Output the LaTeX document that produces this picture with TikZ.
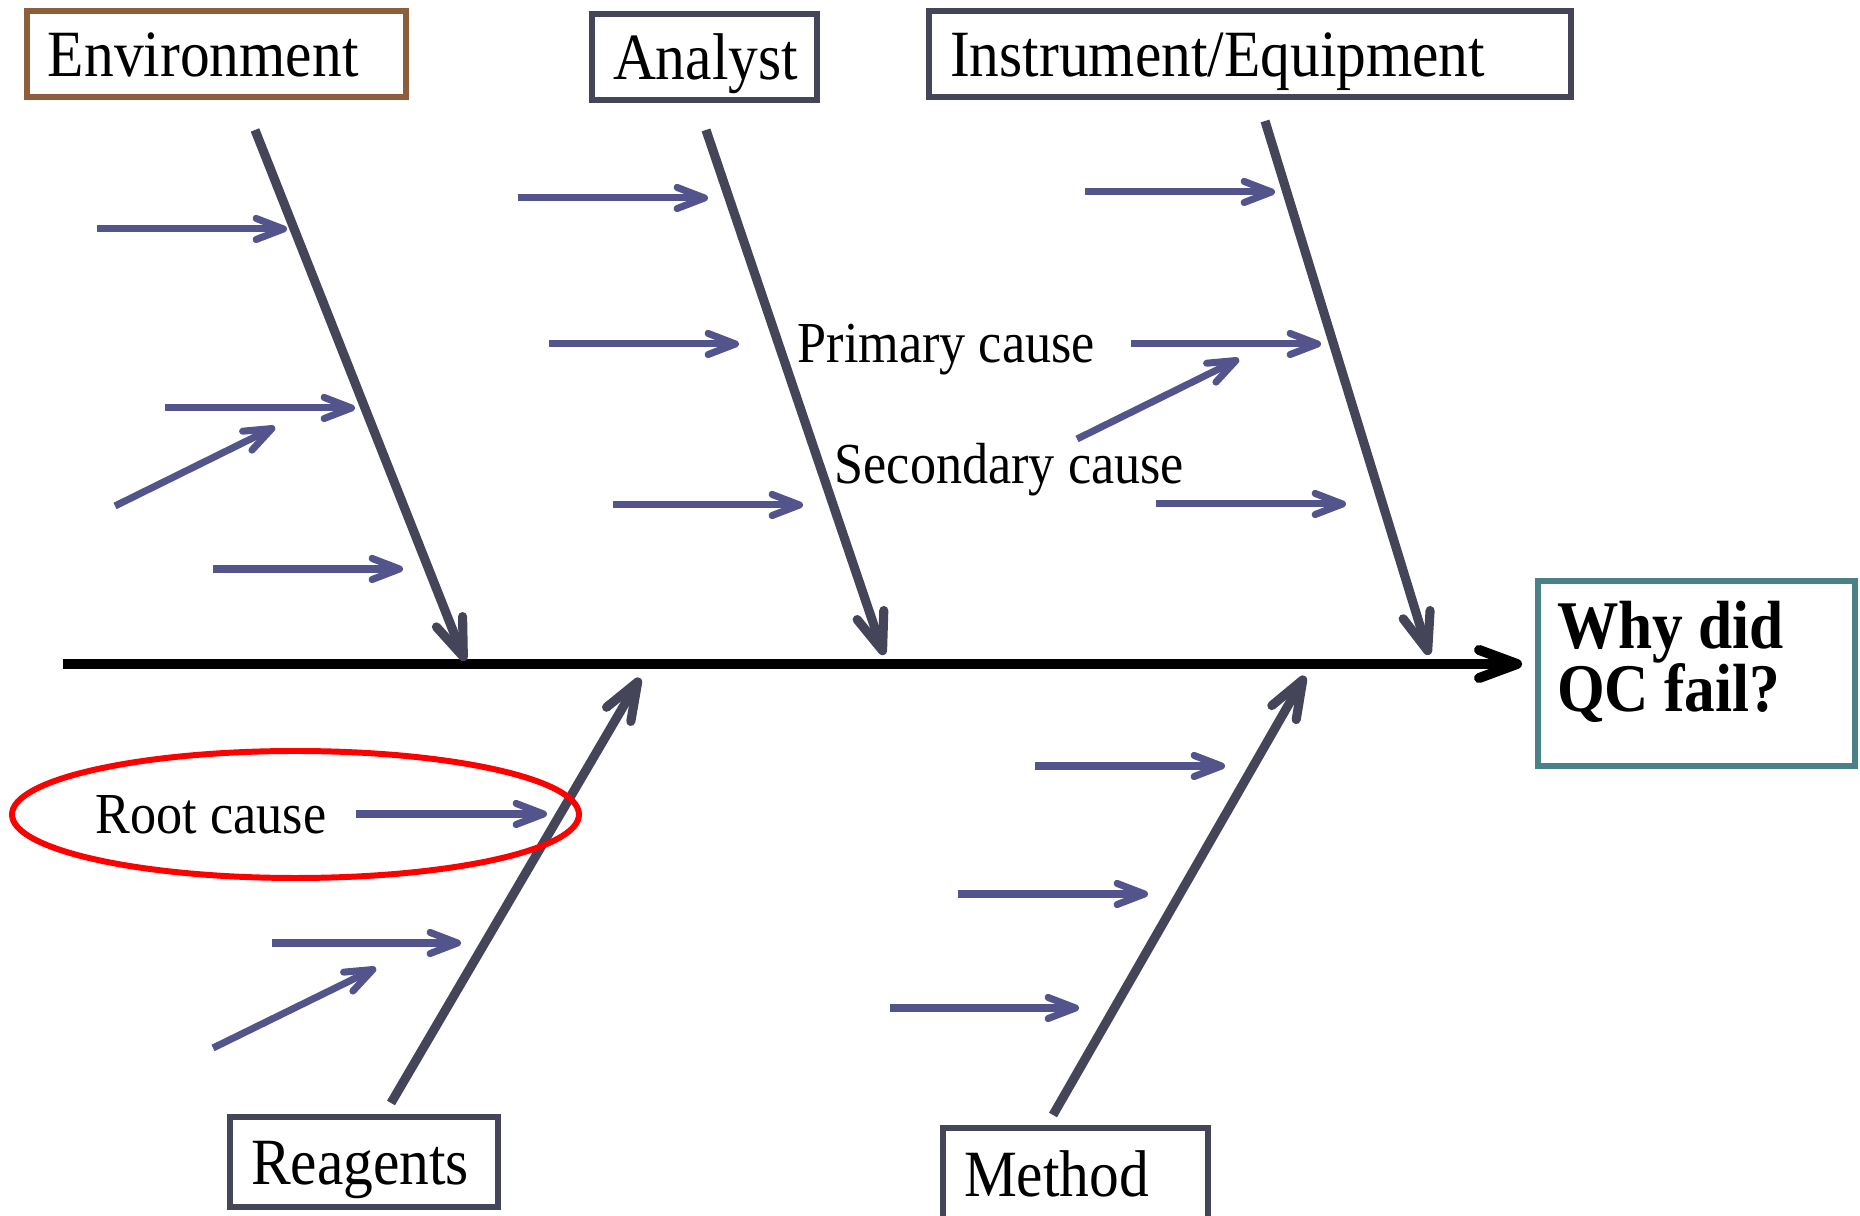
\documentclass[tikz,border=0pt]{standalone}
\usepackage{fontspec}
\setmainfont{Liberation Serif}[FakeStretch=0.9]
\usetikzlibrary{arrows.meta}

\definecolor{bonegray}{RGB}{69,69,90}
\definecolor{subblue}{RGB}{84,84,140}
\definecolor{envbrown}{RGB}{140,94,60}
\definecolor{qcteal}{RGB}{74,128,136}

\tikzset{
    causebox/.style={draw=bonegray, line width=1.5pt, inner xsep=0.21cm, inner ysep=0pt, text height=0.46cm, text depth=0.01cm, align=left, font=\fontsize{18.8}{20}\selectfont},
    causetext/.style={inner sep=0pt, font=\fontsize{16.5}{18}\selectfont},
    spine/.style={draw=black, line width=2.85pt, -{Straight Barb[length=10.8pt, width=8pt, round]}},
    bone/.style={draw=bonegray, line width=2.6pt, -{Straight Barb[length=10.7pt, width=8pt, round]}},
    subcause/.style={draw=subblue, line width=2pt, -{Straight Barb[length=7.8pt, width=6pt, round]}}
}

\begin{document}
\begin{tikzpicture}
    	\clip (0, 0) rectangle (18.6, 12.16);
    	% Category boxes:
    	\node[causebox, draw=envbrown, text width=3.37cm, minimum height=0.86cm] (env) at (2.165, 11.62) {Environment};
    	\node[causebox, text width=1.83cm, minimum height=0.86cm] (analyst) at (7.045, 11.59) {Analyst};
    	\node[causebox, text width=6.00cm, minimum height=0.86cm] (instr) at (12.50, 11.62) {Instrument/Equipment};
    	\node[causebox, text width=2.26cm, minimum height=0.90cm] (reagents) at (3.64, 0.54) {Reagents};
    	\node[causebox, text width=2.23cm, minimum height=0.92cm] (method) at (10.755, 0.42) {Method};
    	\node[shape=rectangle, draw=qcteal, line width=1.5pt, minimum width=3.17cm, minimum height=1.85cm] (qcbox) at (16.965, 5.425) {};
    	\node[anchor=north west, align=left, inner sep=0pt, font=\bfseries\fontsize{19.4}{17.9}\selectfont] (qc) at ([xshift=0.21cm, yshift=-0.22cm]qcbox.north west) {Why did\\QC fail?};
    	% Spine and bones:
    	\coordinate (tail) at (0.63, 5.52);
    	\coordinate (head) at (15.22, 5.52);
    	\coordinate (envtail) at (2.55, 10.86);
    	\coordinate (envhead) at (4.65, 5.55);
    	\coordinate (analysttail) at (7.06, 10.86);
    	\coordinate (analysthead) at (8.84, 5.61);
    	\coordinate (instrtail) at (12.65, 10.95);
    	\coordinate (instrhead) at (14.29, 5.61);
    	\coordinate (reagentstail) at (3.91, 1.13);
    	\coordinate (reagentshead) at (6.40, 5.38);
    	\coordinate (methodtail) at (10.53, 1.01);
    	\coordinate (methodhead) at (13.05, 5.40);
    	\draw[spine] (tail) -- (head);
    	\draw[bone] (envtail) -- (envhead);
    	\draw[bone] (analysttail) -- (analysthead);
    	\draw[bone] (instrtail) -- (instrhead);
    	\draw[bone] (reagentstail) -- (reagentshead);
    	\draw[bone] (methodtail) -- (methodhead);
    	% Causes:
    	\foreach \xa/\ya/\xb/\yb in {0.97/9.87/2.87/9.87, 1.65/8.08/3.55/8.08, 1.15/7.10/2.75/7.89, 2.13/6.47/4.03/6.47,
    	    5.18/10.18/7.08/10.18, 5.49/8.72/7.39/8.72, 6.13/7.11/8.03/7.11,
    	    10.85/10.24/12.75/10.24, 11.31/8.72/13.21/8.72, 10.77/7.77/12.39/8.57, 11.56/7.12/13.46/7.12,
    	    3.56/4.02/5.47/4.02, 2.72/2.73/4.61/2.73, 2.13/1.68/3.76/2.48,
    	    10.35/4.50/12.25/4.50, 9.58/3.22/11.48/3.22, 8.90/2.08/10.79/2.08}
    	    \draw[subcause] (\xa, \ya) -- (\xb, \yb);
    	\node[causetext, anchor=west] (primary) at (7.97, 8.66) {Primary cause};
    	\node[causetext, anchor=west] (secondary) at (8.34, 7.46) {Secondary cause};
    	\node[causetext, anchor=west] (root) at (0.95, 4.01) {Root cause};
    	\draw[red, line width=1.7pt] (2.955, 4.015) ellipse [x radius=2.835, y radius=0.635];
    \end{tikzpicture}
\end{document}
